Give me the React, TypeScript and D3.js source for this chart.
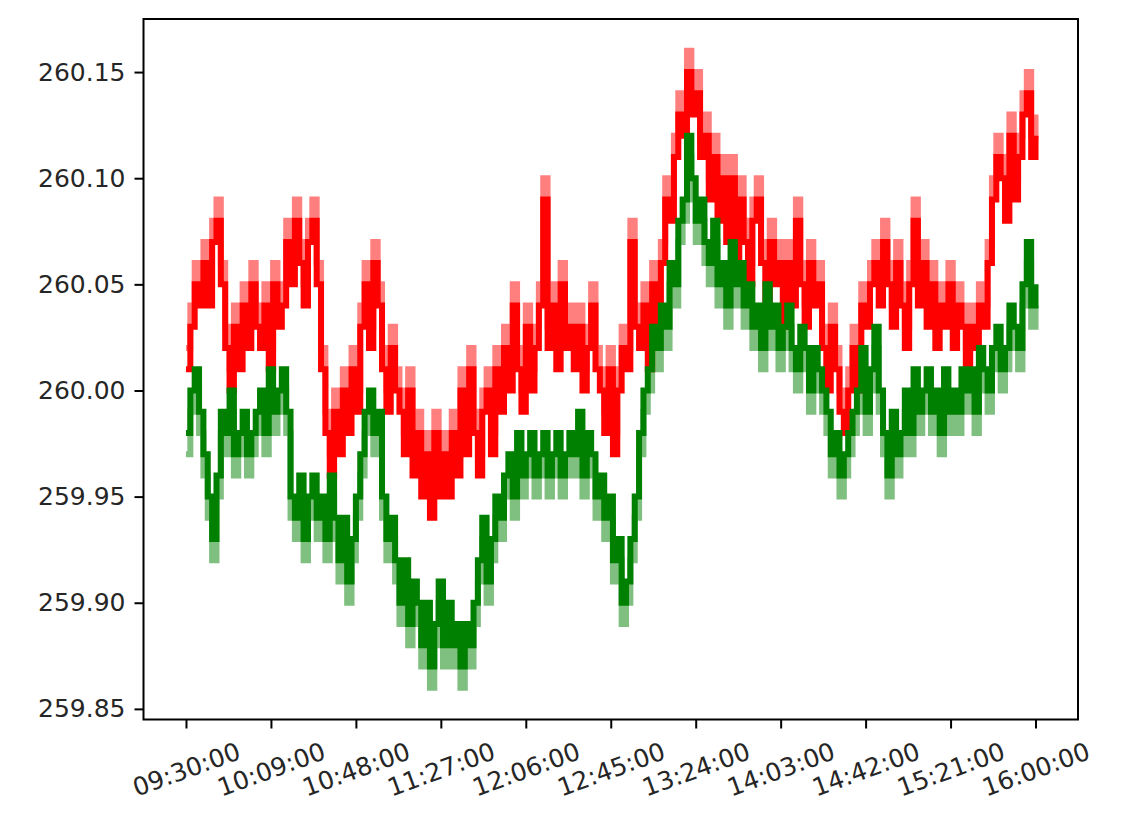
import * as d3 from "d3";
import React, { useRef, useEffect } from "react";

// quotes sampled every 2 minutes, 09:30 -> 16:00
const sampleStepMinutes = 2;

const askPrices = [
  260.01, 260.03, 260.05, 260.04, 260.06, 260.04, 260.07, 260.08, 260.05, 260.02,
  260.0, 260.03, 260.01, 260.04, 260.02, 260.05, 260.03, 260.02, 260.04, 260.01,
  260.05, 260.03, 260.04, 260.07, 260.05, 260.08, 260.06, 260.04, 260.07, 260.08,
  260.05, 260.01, 259.98, 259.96, 259.99, 259.97, 260.0, 259.98, 260.01, 259.99,
  260.03, 260.05, 260.02, 260.06, 260.04, 260.01, 259.99, 260.02, 260.0, 259.99,
  259.97, 260.0, 259.96, 259.98, 259.95, 259.97, 259.94, 259.98, 259.95, 259.97,
  259.95, 259.98, 259.96, 260.0, 259.97, 260.01, 259.98, 259.96, 259.99, 260.0,
  259.97, 260.01, 259.99, 260.02, 260.0, 260.04, 260.01, 259.99, 260.03, 260.0,
  260.02, 260.04, 260.09, 260.02, 260.04, 260.01, 260.05, 260.02, 260.03, 260.01,
  260.03, 260.0, 260.02, 260.04, 260.01, 260.0, 259.98, 260.01, 259.97, 260.0,
  260.02, 260.01, 260.07, 260.03, 260.02, 260.04, 260.01, 260.05, 260.03, 260.06,
  260.09, 260.08, 260.11, 260.13, 260.12, 260.15, 260.13, 260.14, 260.11, 260.12,
  260.09, 260.11, 260.08, 260.1, 260.07, 260.1, 260.06, 260.09, 260.07, 260.05,
  260.08, 260.09, 260.06, 260.04, 260.07, 260.05, 260.06, 260.03, 260.06, 260.04,
  260.08, 260.05, 260.03, 260.06, 260.04, 260.05, 260.02, 260.0, 260.03, 260.01,
  259.99, 259.98, 260.0, 260.02, 260.0, 260.04, 260.03, 260.05, 260.06, 260.04,
  260.07, 260.05, 260.03, 260.06, 260.04, 260.02, 260.05, 260.08, 260.04, 260.06,
  260.03, 260.05, 260.02, 260.04, 260.03, 260.05, 260.02, 260.04, 260.03, 260.01,
  260.03, 260.02, 260.04, 260.03, 260.06, 260.09, 260.11, 260.1, 260.08, 260.12,
  260.09, 260.11, 260.13, 260.14, 260.11, 260.12,
];

const askPricesLevel2 = [
  260.02, 260.04, 260.06, 260.05, 260.07, 260.05, 260.08, 260.09, 260.06, 260.03,
  260.01, 260.04, 260.02, 260.05, 260.03, 260.06, 260.04, 260.03, 260.05, 260.02,
  260.06, 260.04, 260.05, 260.08, 260.06, 260.09, 260.07, 260.05, 260.08, 260.09,
  260.06, 260.02, 259.99, 259.97, 260.0, 259.98, 260.01, 259.99, 260.02, 260.0,
  260.04, 260.06, 260.03, 260.07, 260.05, 260.02, 260.0, 260.03, 260.01, 260.0,
  259.98, 260.01, 259.97, 259.99, 259.96, 259.98, 259.95, 259.99, 259.96, 259.98,
  259.96, 259.99, 259.97, 260.01, 259.98, 260.02, 259.99, 259.97, 260.0, 260.01,
  259.98, 260.02, 260.0, 260.03, 260.01, 260.05, 260.02, 260.0, 260.04, 260.01,
  260.03, 260.05, 260.1, 260.03, 260.05, 260.02, 260.06, 260.03, 260.04, 260.02,
  260.04, 260.01, 260.03, 260.05, 260.02, 260.01, 259.99, 260.02, 259.98, 260.01,
  260.03, 260.02, 260.08, 260.04, 260.03, 260.05, 260.02, 260.06, 260.04, 260.07,
  260.1, 260.09, 260.12, 260.14, 260.13, 260.16, 260.14, 260.15, 260.12, 260.13,
  260.1, 260.12, 260.09, 260.11, 260.08, 260.11, 260.07, 260.1, 260.08, 260.06,
  260.09, 260.1, 260.07, 260.05, 260.08, 260.06, 260.07, 260.04, 260.07, 260.05,
  260.09, 260.06, 260.04, 260.07, 260.05, 260.06, 260.03, 260.01, 260.04, 260.02,
  260.0, 259.99, 260.01, 260.03, 260.01, 260.05, 260.04, 260.06, 260.07, 260.05,
  260.08, 260.06, 260.04, 260.07, 260.05, 260.03, 260.06, 260.09, 260.05, 260.07,
  260.04, 260.06, 260.03, 260.05, 260.04, 260.06, 260.03, 260.05, 260.04, 260.02,
  260.04, 260.03, 260.05, 260.04, 260.07, 260.1, 260.12, 260.11, 260.09, 260.13,
  260.1, 260.12, 260.14, 260.15, 260.12, 260.13,
];

const bidPrices = [
  259.98, 260.0, 260.01, 259.99, 259.97, 259.95, 259.93, 259.96, 259.99, 259.98,
  260.0, 259.97, 259.98, 259.99, 259.97, 259.98, 259.99, 260.0, 259.98, 260.01,
  259.99, 260.0, 260.01, 259.99, 259.95, 259.94, 259.96, 259.93, 259.95, 259.96,
  259.94, 259.95, 259.93, 259.96, 259.94, 259.92, 259.94, 259.91, 259.93, 259.95,
  259.97, 259.99, 260.0, 259.98, 259.99, 259.95, 259.93, 259.94, 259.92, 259.9,
  259.92, 259.89, 259.91, 259.9, 259.88, 259.9, 259.87, 259.89, 259.91, 259.88,
  259.9, 259.88, 259.89, 259.87, 259.89, 259.88, 259.9, 259.92, 259.94, 259.91,
  259.93, 259.95, 259.94, 259.96, 259.97, 259.95, 259.98, 259.96, 259.97, 259.98,
  259.96, 259.97, 259.98, 259.96, 259.97, 259.98, 259.96, 259.97, 259.98, 259.97,
  259.99, 259.96, 259.98, 259.97, 259.95, 259.96, 259.94, 259.95, 259.92, 259.93,
  259.9, 259.91, 259.93, 259.95, 259.98, 260.0, 260.01, 260.03, 260.02, 260.04,
  260.03, 260.06, 260.05, 260.08, 260.09, 260.12, 260.1, 260.08, 260.09, 260.07,
  260.06, 260.08, 260.05, 260.06, 260.04, 260.07, 260.05, 260.06, 260.04, 260.05,
  260.03, 260.04, 260.02, 260.05, 260.03, 260.04, 260.02, 260.03, 260.04, 260.02,
  260.01, 260.03, 260.02, 260.0, 260.02, 260.01, 260.0, 259.99, 259.97, 259.98,
  259.96, 259.97, 259.98, 259.99, 260.0, 260.02, 259.99, 260.01, 260.03, 260.0,
  259.98, 259.96, 259.99, 259.97, 259.98, 260.0, 259.98, 260.01, 259.99, 260.0,
  260.01, 259.99, 260.0, 259.98, 260.01, 259.99, 260.0, 259.99, 260.01, 260.0,
  260.01, 259.99, 260.02, 260.01, 260.0, 260.02, 260.03, 260.01, 260.02, 260.04,
  260.03, 260.02, 260.05, 260.07, 260.04, 260.05,
];

const bidPricesLevel2 = [
  259.97, 259.99, 260.0, 259.98, 259.96, 259.94, 259.92, 259.95, 259.98, 259.97,
  259.99, 259.96, 259.97, 259.98, 259.96, 259.97, 259.98, 259.99, 259.97, 260.0,
  259.98, 259.99, 260.0, 259.98, 259.94, 259.93, 259.95, 259.92, 259.94, 259.95,
  259.93, 259.94, 259.92, 259.95, 259.93, 259.91, 259.93, 259.9, 259.92, 259.94,
  259.96, 259.98, 259.99, 259.97, 259.98, 259.94, 259.92, 259.93, 259.91, 259.89,
  259.91, 259.88, 259.9, 259.89, 259.87, 259.89, 259.86, 259.88, 259.9, 259.87,
  259.89, 259.87, 259.88, 259.86, 259.88, 259.87, 259.89, 259.91, 259.93, 259.9,
  259.92, 259.94, 259.93, 259.95, 259.96, 259.94, 259.97, 259.95, 259.96, 259.97,
  259.95, 259.96, 259.97, 259.95, 259.96, 259.97, 259.95, 259.96, 259.97, 259.96,
  259.98, 259.95, 259.97, 259.96, 259.94, 259.95, 259.93, 259.94, 259.91, 259.92,
  259.89, 259.9, 259.92, 259.94, 259.97, 259.99, 260.0, 260.02, 260.01, 260.03,
  260.02, 260.05, 260.04, 260.07, 260.08, 260.11, 260.09, 260.07, 260.08, 260.06,
  260.05, 260.07, 260.04, 260.05, 260.03, 260.06, 260.04, 260.05, 260.03, 260.04,
  260.02, 260.03, 260.01, 260.04, 260.02, 260.03, 260.01, 260.02, 260.03, 260.01,
  260.0, 260.02, 260.01, 259.99, 260.01, 260.0, 259.99, 259.98, 259.96, 259.97,
  259.95, 259.96, 259.97, 259.98, 259.99, 260.01, 259.98, 260.0, 260.02, 259.99,
  259.97, 259.95, 259.98, 259.96, 259.97, 259.99, 259.97, 260.0, 259.98, 259.99,
  260.0, 259.98, 259.99, 259.97, 260.0, 259.98, 259.99, 259.98, 260.0, 259.99,
  260.0, 259.98, 260.01, 260.0, 259.99, 260.01, 260.02, 260.0, 260.01, 260.03,
  260.02, 260.01, 260.04, 260.06, 260.03, 260.04,
];

const xTickMinutes = [0, 39, 78, 117, 156, 195, 234, 273, 312, 351, 390];
const xTickLabels = [
  "09:30:00", "10:09:00", "10:48:00", "11:27:00", "12:06:00", "12:45:00",
  "13:24:00", "14:03:00", "14:42:00", "15:21:00", "16:00:00",
];
const yTicks = [259.85, 259.9, 259.95, 260.0, 260.05, 260.1, 260.15];

function QuoteChart({ width, height }: { width: number; height: number }) {
  const ref = useRef<SVGSVGElement>(null);

  useEffect(() => {
    draw();
  }, []);

  const draw = () => {
    const svg = d3.select(ref.current);
    svg.selectAll("*").remove();

    const left = 143.5, right = 1078, top = 19, bottom = 719.5;

    const xScale = d3.scaleLinear().domain([-19.5, 409.5]).range([left, right]);
    const yScale = d3.scaleLinear().domain([259.845, 260.175]).range([bottom, top]);

    const line = d3
      .line<number>()
      .x((d, i) => xScale(i * sampleStepMinutes))
      .y((d) => yScale(d))
      .curve(d3.curveStepAfter);

    // soften edges a little, the original is an upscaled raster
    const defs = svg.append("defs");
    defs
      .append("filter")
      .attr("id", "soft")
      .append("feGaussianBlur")
      .attr("stdDeviation", 0.6);

    const plot = svg.append("g").attr("filter", "url(#soft)");
    const series = [
      { data: askPricesLevel2, color: "#ff0000", opacity: 0.5 },
      { data: bidPricesLevel2, color: "#008000", opacity: 0.5 },
      { data: askPrices, color: "#ff0000", opacity: 1 },
      { data: bidPrices, color: "#008000", opacity: 1 },
    ];
    series.forEach((s) => {
      plot
        .append("path")
        .datum(s.data)
        .attr("d", line)
        .attr("fill", "none")
        .attr("stroke", s.color)
        .attr("stroke-opacity", s.opacity)
        .attr("stroke-width", 6)
        .attr("stroke-linejoin", "miter");
    });

    // y axis
    const yAxis = d3
      .axisLeft(yScale)
      .tickValues(yTicks)
      .tickSize(9)
      .tickPadding(9)
      .tickFormat((d) => d3.format(".2f")(d as number));
    const yg = svg.append("g").attr("transform", "translate(" + left + ",0)").call(yAxis);
    yg.select(".domain").remove();
    yg.selectAll("line").attr("stroke", "#000").attr("stroke-width", 2);
    yg.selectAll("text")
      .attr("fill", "#262626")
      .style("font-family", "DejaVu Sans")
      .style("font-size", "25px");

    // x axis
    const xAxis = d3
      .axisBottom(xScale)
      .tickValues(xTickMinutes)
      .tickSize(9)
      .tickFormat((d, i) => xTickLabels[i]);
    const xg = svg.append("g").attr("transform", "translate(0," + bottom + ")").call(xAxis);
    xg.select(".domain").remove();
    xg.selectAll("line").attr("stroke", "#000").attr("stroke-width", 2);
    xg.selectAll("text")
      .attr("y", 0)
      .attr("dy", null)
      .attr("text-anchor", "middle")
      .attr("dominant-baseline", "central")
      .attr("transform", "translate(0,50) rotate(-20)")
      .attr("fill", "#262626")
      .style("font-family", "DejaVu Sans")
      .style("font-size", "25px");

    // frame on top
    svg
      .append("rect")
      .attr("x", left)
      .attr("y", top)
      .attr("width", right - left)
      .attr("height", bottom - top)
      .attr("fill", "none")
      .attr("stroke", "#000")
      .attr("stroke-width", 2);
  };

  return (
    <svg
      ref={ref}
      width={width}
      height={height}
      style={{ position: "absolute", left: 0, top: 0, background: "#fff" }}
    ></svg>
  );
}

export default function App() {
  return <QuoteChart width={1136} height={814} />;
}
